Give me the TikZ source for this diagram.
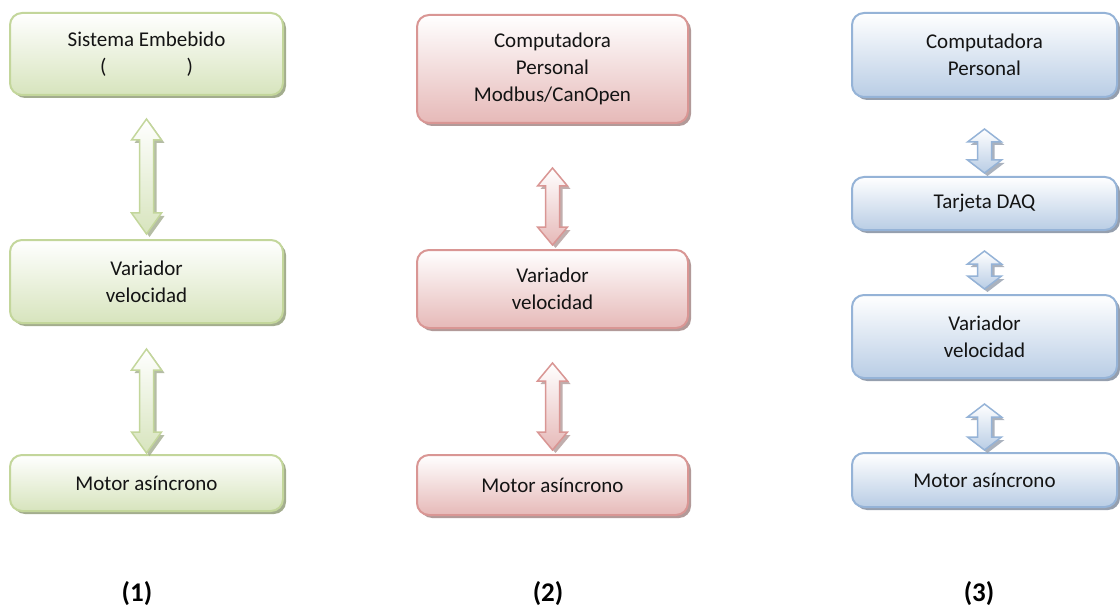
\documentclass[tikz,border=0pt]{standalone}
\usepackage{fontspec}
\setmainfont{Carlito}
\usetikzlibrary{calc,shadows}

\definecolor{gline}{HTML}{C3D69B}
\definecolor{gfill}{HTML}{D7E4BD}
\definecolor{gshade}{HTML}{A3AD8E}
\definecolor{rline}{HTML}{D99694}
\definecolor{rfill}{HTML}{E6B9B8}
\definecolor{rshade}{HTML}{B29A99}
\definecolor{bline}{HTML}{95B3D7}
\definecolor{bfill}{HTML}{B9CDE5}
\definecolor{bshade}{HTML}{959FAE}

\tikzset{
  box/.style={rounded corners=12pt, line width=2pt, align=center,
    font=\fontsize{21}{27}\selectfont, text=black!92, inner sep=0pt},
  gbox/.style={box, draw=gline, top color=white, bottom color=gfill,
    drop shadow={shadow xshift=3pt, shadow yshift=-3pt, fill=gshade, opacity=1}},
  rbox/.style={box, draw=rline, top color=white, bottom color=rfill,
    drop shadow={shadow xshift=3pt, shadow yshift=-3pt, fill=rshade, opacity=1}},
  bbox/.style={box, draw=bline, top color=white, bottom color=bfill,
    drop shadow={shadow xshift=3pt, shadow yshift=-3pt, fill=bshade, opacity=1}},
  garrow/.style={line width=1.5pt, draw=gline, top color=white, bottom color=gfill,
    drop shadow={shadow xshift=3pt, shadow yshift=-3pt, fill=gshade, opacity=0.8}},
  rarrow/.style={line width=1.5pt, draw=rline, top color=white, bottom color=rfill,
    drop shadow={shadow xshift=3pt, shadow yshift=-3pt, fill=rshade, opacity=0.8}},
  barrow/.style={line width=1.5pt, draw=bline, top color=white, bottom color=bfill,
    drop shadow={shadow xshift=3pt, shadow yshift=-3pt, fill=bshade, opacity=0.8}},
  lbl/.style={font=\bfseries\fontsize{27}{32}\selectfont, inner sep=0pt}
}

% two-headed block arrow between two stacked nodes
% #1 style, #2 upper node, #3 lower node, #4 gap below upper node,
% #5 gap above lower node, #6 half head width, #7 half shaft width, #8 head height
\newcommand\linkarrow[8]{%
  \path[#1] let \p1=($(#2.south)+(0,#4)$), \p2=($(#3.north)-(0,#5)$) in
    (\x1,\y1) -- (\x1+#6pt,\y1-#8pt) -- (\x1+#7pt,\y1-#8pt)
    -- (\x1+#7pt,\y2+#8pt) -- (\x1+#6pt,\y2+#8pt) -- (\x1,\y2)
    -- (\x1-#6pt,\y2+#8pt) -- (\x1-#7pt,\y2+#8pt)
    -- (\x1-#7pt,\y1-#8pt) -- (\x1-#6pt,\y1-#8pt) -- cycle;}

\begin{document}
\begin{tikzpicture}[x=1pt,y=-1pt]
\useasboundingbox (0,0) rectangle (1120,607);

% column 1
\node[gbox, minimum width=273, minimum height=82] (g1) at (146.5,54)
  {Sistema Embebido\\(\hspace{80pt})};
\node[gbox, minimum width=273, minimum height=83] (g2) at (146.5,281.5)
  {Variador\\velocidad};
\node[gbox, minimum width=273, minimum height=56] (g3) at (146.5,483)
  {Motor asíncrono};
\linkarrow{garrow}{g1}{g2}{23}{5}{15}{7}{21}
\linkarrow{garrow}{g2}{g3}{25}{1}{15}{7}{21}

% column 2
\node[rbox, minimum width=271, minimum height=108] (r1) at (552.5,69)
  {Computadora\\Personal\\Modbus/CanOpen};
\node[rbox, minimum width=271, minimum height=78] (r2) at (552.5,289)
  {Variador\\velocidad};
\node[rbox, minimum width=271, minimum height=60] (r3) at (552.5,485)
  {Motor asíncrono};
\linkarrow{rarrow}{r1}{r2}{44}{4}{15}{7}{18}
\linkarrow{rarrow}{r2}{r3}{34}{4}{15}{7}{18}

% column 3
\node[bbox, minimum width=265, minimum height=84] (b1) at (984.5,55)
  {Computadora\\Personal};
\node[bbox, minimum width=265, minimum height=53] (b2) at (984.5,203.5)
  {Tarjeta DAQ};
\node[bbox, minimum width=265, minimum height=83] (b3) at (984.5,336.5)
  {Variador\\velocidad};
\node[bbox, minimum width=265, minimum height=54] (b4) at (984.5,480)
  {Motor asíncrono};
\linkarrow{barrow}{b1}{b2}{31}{3}{17}{7}{13}
\linkarrow{barrow}{b2}{b3}{20}{5}{17}{7}{13}
\linkarrow{barrow}{b3}{b4}{25}{2}{17}{7}{13}

% captions
\node[lbl] (n1) at (137,594) {(1)};
\node[lbl] (n2) at (548,594) {(2)};
\node[lbl] (n3) at (979,594) {(3)};
\end{tikzpicture}
\end{document}
